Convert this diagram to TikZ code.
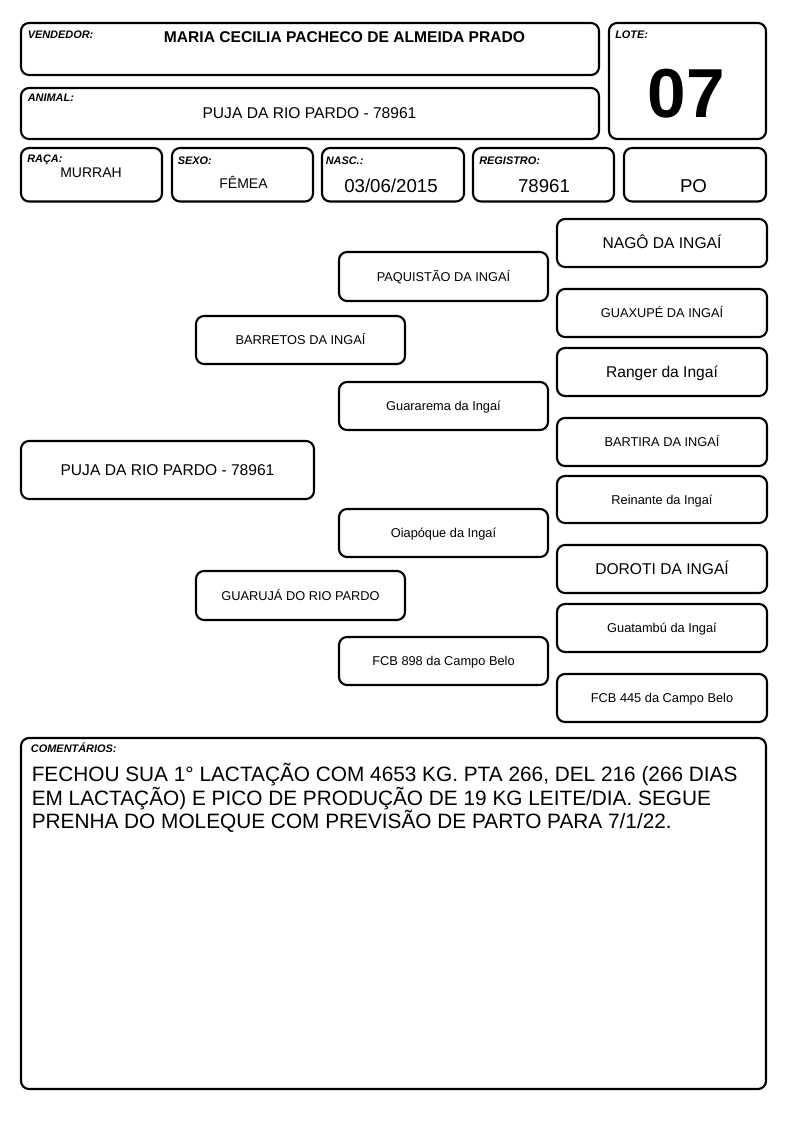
\documentclass[tikz,border=0pt]{standalone}
\usepackage{fontspec}
\setmainfont{Liberation Sans}
\tikzset{
  cardbox/.style={draw=black, line width=1.6pt, rounded corners=6pt, inner sep=0pt, fill=white},
  lbl/.style={anchor=base west, inner sep=0pt, font=\fontsize{8.2}{9}\selectfont\bfseries\itshape},
  val/.style={anchor=base, inner sep=0pt},
  pedsmall/.style={font=\fontsize{9.6}{11}\selectfont, text height=6.9pt, text depth=0pt},
  pedbig/.style={font=\fontsize{11.7}{13}\selectfont, text height=8.4pt, text depth=0pt},
  comtext/.style={anchor=base west, inner sep=0pt, font=\fontsize{15.6}{17}\selectfont},
}
% [style]{name}{x1}{y1}{x2}{y2}{text}
\newcommand\mkbox[7][]{\node[cardbox,#1,minimum width={(#5-#3)*0.75pt},minimum height={(#6-#4)*0.75pt}] (#2) at ({(#3+#5)/2},{(#4+#6)/2}) {#7};}
\begin{document}
\begin{tikzpicture}[x=0.75pt,y=-0.75pt]
\useasboundingbox (0,0) rectangle (794,1123);
\fill[white] (0,0) rectangle (794,1123);

% header boxes
\mkbox{vend}{21}{23}{599}{75}{}
\mkbox{anim}{21}{88}{599}{139}{}
\mkbox{lote}{609}{23}{766}{139}{}
\mkbox{raca}{21}{148}{162}{201.5}{}
\mkbox{sexo}{172}{148}{313}{201.5}{}
\mkbox{nasc}{322}{148}{464}{201.5}{}
\mkbox{reg}{473}{148}{614}{201.5}{}
\mkbox{tipo}{624}{148}{766}{201.5}{}

\node[lbl] (vendL) at (27.5,39) {VENDEDOR:};
\node[val, font=\fontsize{11.7}{13}\selectfont\bfseries] (vendV) at (344.5,43) {MARIA CECILIA PACHECO DE ALMEIDA PRADO};
\node[lbl] (animL) at (27.5,102) {ANIMAL:};
\node[val, font=\fontsize{11.7}{13}\selectfont] (animV) at (309.5,119) {PUJA DA RIO PARDO - 78961};
\node[lbl] (loteL) at (615,39) {LOTE:};
\node[val, font=\fontsize{52}{56}\selectfont\bfseries] (loteV) at (686.5,118) {07};
\node[lbl] (racaL) at (27,163) {RAÇA:};
\node[val, font=\fontsize{10.5}{12}\selectfont] (racaV) at (91,178) {MURRAH};
\node[lbl] (sexoL) at (177.5,165) {SEXO:};
\node[val, font=\fontsize{10.5}{12}\selectfont] (sexoV) at (243.5,189) {FÊMEA};
\node[lbl] (nascL) at (325.5,165) {NASC.:};
\node[val, font=\fontsize{14}{16}\selectfont] (nascV) at (391,193) {03/06/2015};
\node[lbl] (regL) at (479,165) {REGISTRO:};
\node[val, font=\fontsize{14}{16}\selectfont] (regV) at (544,193) {78961};
\node[val, font=\fontsize{14}{16}\selectfont] (tipoV) at (693.5,193) {PO};

% pedigree
\mkbox[pedbig]{p0}{21}{441}{314}{499}{PUJA DA RIO PARDO - 78961}
\mkbox[pedsmall]{s}{196}{316}{405}{364}{BARRETOS DA INGAÍ}
\mkbox[pedsmall]{d}{196}{571}{405}{620}{GUARUJÁ DO RIO PARDO}
\mkbox[pedsmall]{ss}{339}{252}{548}{301}{PAQUISTÃO DA INGAÍ}
\mkbox[pedsmall]{sd}{339}{382}{548}{430}{Guararema da Ingaí}
\mkbox[pedsmall]{ds}{339}{509}{548}{557}{Oiapóque da Ingaí}
\mkbox[pedsmall]{dd}{339}{637}{548}{685}{FCB 898 da Campo Belo}
\mkbox[pedbig]{sss}{557}{219}{767}{267}{NAGÔ DA INGAÍ}
\mkbox[pedsmall]{ssd}{557}{289}{767}{337}{GUAXUPÉ DA INGAÍ}
\mkbox[pedbig]{sds}{557}{348}{767}{396}{Ranger da Ingaí}
\mkbox[pedsmall]{sdd}{557}{418}{767}{466}{BARTIRA DA INGAÍ}
\mkbox[pedsmall]{dss}{557}{476}{767}{523}{Reinante da Ingaí}
\mkbox[pedbig]{dsd}{557}{545}{767}{593}{DOROTI DA INGAÍ}
\mkbox[pedsmall]{dds}{557}{604}{767}{652}{Guatambú da Ingaí}
\mkbox[pedsmall]{ddd}{557}{674}{767}{722}{FCB 445 da Campo Belo}

% comments
\mkbox{com}{21}{738}{766}{1089}{}
\node[lbl] (comL) at (30.7,752) {COMENTÁRIOS:};
\node[comtext] (com1) at (31.5,781.5) {FECHOU SUA 1° LACTAÇÃO COM 4653 KG. PTA 266, DEL 216 (266 DIAS};
\node[comtext] (com2) at (31.5,805) {EM LACTAÇÃO) E PICO DE PRODUÇÃO DE 19 KG LEITE/DIA. SEGUE};
\node[comtext] (com3) at (31.5,828.5) {PRENHA DO MOLEQUE COM PREVISÃO DE PARTO PARA 7/1/22.};
\end{tikzpicture}
\end{document}
